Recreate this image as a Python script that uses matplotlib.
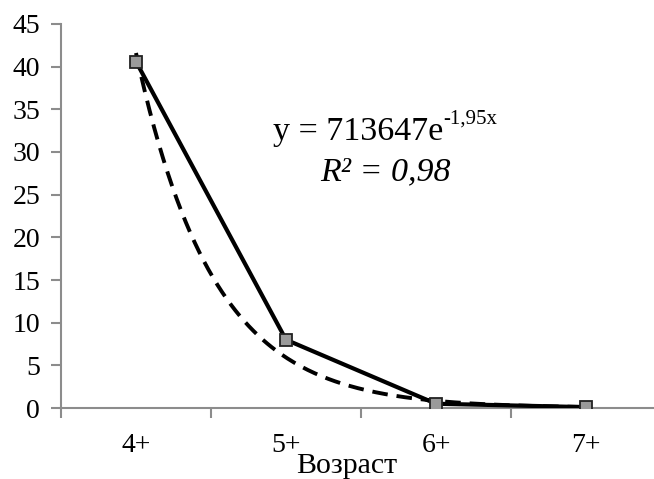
import matplotlib
matplotlib.use("Agg")
import matplotlib.pyplot as plt
import numpy as np

plt.rcParams['font.family'] = ['Liberation Serif', 'DejaVu Serif']

# age groups and catch values
ages = ['4+', '5+', '6+', '7+']
values = [40.6, 8.0, 0.5, 0.1]

# exponential trend as printed on the chart (x counted from 5 for 4+)
trend_a = 713647
trend_b = -1.95
trend_x0 = 5

fig = plt.figure(figsize=(6.54, 4.79), dpi=100)
ax = fig.add_axes([61 / 654, 71 / 479, 600 / 654, 384 / 479])

pos = np.arange(len(ages))
xs = np.linspace(0, len(ages) - 1, 200)
trend = trend_a * np.exp(trend_b * (xs + trend_x0))
ax.plot(xs, trend, color='black', lw=2.8, ls=(0, (4, 2.3)), zorder=2)

ax.plot(pos, values, color='black', lw=3.0, marker='s', markersize=9,
        markerfacecolor='#9a9a9a', markeredgecolor='#222222', markeredgewidth=1.3,
        zorder=3)

ax.set_xlim(-0.5, 3.5)
ax.set_ylim(0, 45)
ax.set_yticks(np.arange(0, 46, 5))
ax.set_xticks(pos)
ax.set_xticklabels(ages)
ax.set_xticks(np.arange(-0.5, 4, 1), minor=True)

for s in ['top', 'right']:
    ax.spines[s].set_visible(False)
for s in ['left', 'bottom']:
    ax.spines[s].set_color('#8c8c8c')
    ax.spines[s].set_linewidth(1.5)

ax.tick_params(axis='y', direction='out', length=7, width=1.5, color='#8c8c8c',
               labelsize=20, pad=8)
ax.tick_params(axis='x', which='major', length=0, labelsize=20, pad=18)
ax.tick_params(axis='x', which='minor', direction='out', length=7, width=1.5,
               color='#8c8c8c')

t = ax.text(0.353, 0.698, 'y = 713647e', transform=ax.transAxes,
            fontsize=24.5, ha='left', va='baseline')
ax.annotate('-1,95x', xy=(1, 0.742), xycoords=(t, 'axes fraction'),
            fontsize=15, ha='left', va='baseline')
ax.text(0.54, 0.594, 'R² = 0,98', transform=ax.transAxes, fontsize=24.5,
        style='italic', ha='center', va='baseline')

fig.text(347 / 654, 6 / 479, 'Возраст', fontsize=21.5, ha='center', va='baseline')

fig.savefig('out.png', dpi=100)
